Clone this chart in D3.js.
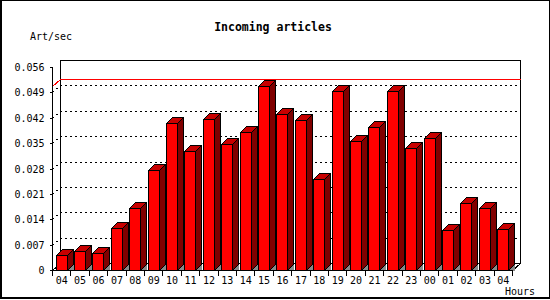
<!DOCTYPE html>
<html lang="en">
<head>
  <meta charset="UTF-8" />
  <title>Incoming articles</title>
  <script src="https://d3js.org/d3.v7.min.js"></script>
  <style>
    body { margin: 0; background: #fff; }
    svg text { font-family: 'DejaVu Sans Mono', monospace; fill: #000; }
  </style>
</head>
<body>
  <svg id="chart"></svg>

  <script>
    // data
    const hours = ["04", "05", "06", "07", "08", "09", "10", "11", "12", "13", "14", "15", "16",
                   "17", "18", "19", "20", "21", "22", "23", "00", "01", "02", "03", "04"];
    const rates = [0.0041, 0.0052, 0.0048, 0.0115, 0.0170, 0.0276, 0.0405, 0.0327, 0.0416, 0.0347,
                   0.0381, 0.0508, 0.0430, 0.0415, 0.0251, 0.0494, 0.0356, 0.0394, 0.0493, 0.0336,
                   0.0363, 0.0109, 0.0184, 0.0170, 0.0112];
    const yTicks = [0, 0.007, 0.014, 0.021, 0.028, 0.035, 0.042, 0.049, 0.056];

    const width = 550, height = 300;
    const frame = { left: 52, right: 512, top: 67, bottom: 270 };
    const depth = { x: 8, y: 7 };      // depth of the plot box
    const barDepth = { x: 6, y: 6 };   // depth of each bar

    const svg = d3.select("#chart")
      .attr("width", width)
      .attr("height", height)
      .attr("shape-rendering", "crispEdges");

    // outer border
    svg.append("path")
      .attr("d", `M0.5,0.5 H549.5 M549.5,0.5 V298 M0,297.5 H550 M0,298.5 H550 M0.5,0 V299 M1.5,0 V299`)
      .attr("stroke", "#000").attr("fill", "none");

    svg.append("text")
      .attr("x", 273).attr("y", 27)
      .attr("text-anchor", "middle").attr("dominant-baseline", "middle")
      .attr("font-size", "11.5px").attr("font-weight", "bold")
      .text("Incoming articles");

    svg.append("text")
      .attr("x", 30).attr("y", 37)
      .attr("dominant-baseline", "middle")
      .attr("font-size", "10px")
      .text("Art/sec");

    svg.append("text")
      .attr("x", 505).attr("y", 292)
      .attr("dominant-baseline", "middle")
      .attr("font-size", "10px")
      .text("Hours");

    const x = d3.scaleBand()
      .domain(d3.range(hours.length))
      .range([frame.left, frame.right])
      .padding(0);

    const y = d3.scaleLinear()
      .domain([0, 0.056])
      .range([frame.bottom, frame.top]);

    const g = svg.append("g").attr("transform", "translate(0.5,0.5)");

    // back wall frame
    const bl = frame.left + depth.x, br = frame.right + depth.x;
    const bt = frame.top - depth.y, bb = frame.bottom - depth.y;
    g.append("path")
      .attr("d", `M${bl},${bb} V${bt} H${br} V${bb} H${bl}
                  M${frame.left},${frame.bottom} L${bl},${bb}
                  M${frame.right},${frame.bottom} L${br},${bb}`)
      .attr("fill", "none").attr("stroke", "#000");

    // dashed grid on side wall + back wall
    const gridPath = v => {
      const yy = Math.round(y(v));
      return `M${frame.left},${yy} L${bl},${yy - depth.y} H${br}`;
    };
    g.selectAll(".grid")
      .data(yTicks.filter(t => t > 0 && t < 0.056))
      .join("path")
      .attr("class", "grid")
      .attr("d", gridPath)
      .attr("fill", "none")
      .attr("stroke", "#000")
      .attr("stroke-dasharray", "2,3");

    // max line
    g.append("path")
      .attr("d", gridPath(d3.max(rates)))
      .attr("fill", "none")
      .attr("stroke", "#ff0000");

    // bars
    const bw = x.bandwidth() * 0.6;
    const bars = g.selectAll(".bar")
      .data(rates)
      .join("g")
      .attr("class", "bar");

    bars.each(function (v, i) {
      const b = d3.select(this);
      const x0 = Math.round(x(i) + (x.bandwidth() - bw) / 2);
      const x1 = Math.round(x0 + bw);
      const y0 = Math.round(y(v)), y1 = y(0);
      const ddx = barDepth.x, ddy = barDepth.y;

      b.append("path")
        .attr("d", `M${x1},${y1} L${x1 + ddx},${y1 - ddy} V${y1} Z`)
        .attr("fill", "#888888");
      b.append("path")
        .attr("d", `M${x1},${y0} L${x1 + ddx},${y0 - ddy} V${y1 - ddy} L${x1},${y1} Z`)
        .attr("fill", "#800000").attr("stroke", "#000");
      b.append("path")
        .attr("d", `M${x0},${y0} L${x0 + ddx},${y0 - ddy} H${x1 + ddx} L${x1},${y0} Z`)
        .attr("fill", "#c80000").attr("stroke", "#000");
      b.append("rect")
        .attr("x", x0).attr("y", y0)
        .attr("width", x1 - x0).attr("height", y1 - y0)
        .attr("fill", "#ff0000").attr("stroke", "#000");
    });

    // y axis
    const yAxis = g.append("g")
      .attr("transform", `translate(${frame.left},0)`)
      .call(d3.axisLeft(y)
        .tickValues(yTicks)
        .tickSize(3)
        .tickPadding(5)
        .tickFormat(d => d === 0 ? "0" : d3.format(".3f")(d)));
    yAxis.select(".domain").attr("d", `M0,${frame.top} V${frame.bottom}`);
    yAxis.selectAll(".tick").attr("transform", d => `translate(0,${Math.round(y(d))})`);
    yAxis.selectAll("text").attr("font-size", "10px").attr("font-family", "'DejaVu Sans Mono', monospace");

    // x axis: labels in the middle of each slot, ticks on slot boundaries
    const xAxis = g.append("g")
      .attr("transform", `translate(0,${frame.bottom})`)
      .call(d3.axisBottom(x)
        .tickSize(0)
        .tickPadding(6)
        .tickFormat(i => hours[i]));
    xAxis.select(".domain").attr("d", `M${frame.left},0 H${frame.right}`);
    xAxis.selectAll("text").attr("font-size", "10px").attr("font-family", "'DejaVu Sans Mono', monospace");

    xAxis.selectAll(".edge")
      .data(d3.range(hours.length + 1))
      .join("line")
      .attr("class", "edge")
      .attr("x1", i => i < hours.length ? Math.round(x(i)) : frame.right)
      .attr("x2", i => i < hours.length ? Math.round(x(i)) : frame.right)
      .attr("y1", 0).attr("y2", 5)
      .attr("stroke", "#000");
  </script>
</body>
</html>
